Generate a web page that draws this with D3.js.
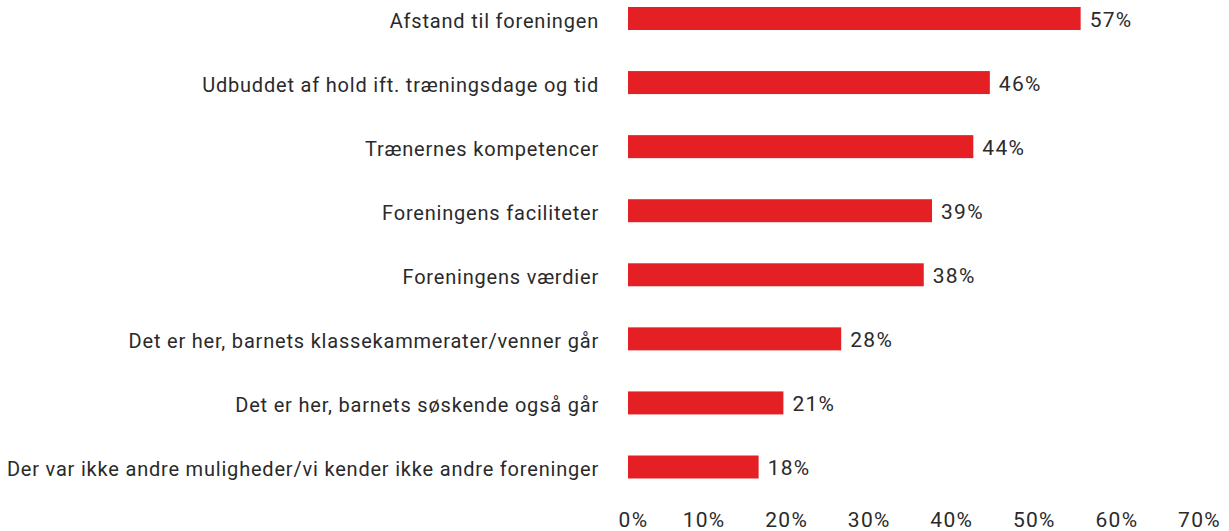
<!DOCTYPE html>
<html>
<head>
<meta charset="utf-8">
<script src="https://cdn.jsdelivr.net/npm/d3@7"></script>
<style>
  body { margin: 0; background: #fff; }
  text { font-family: Roboto, "Noto Sans", sans-serif; fill: #2a2a2a; font-weight: 400; }
</style>
</head>
<body>
<div id="viz"></div>
<script>
// categories, top to bottom
const categories = [
  "Afstand til foreningen",
  "Udbuddet af hold ift. træningsdage og tid",
  "Trænernes kompetencer",
  "Foreningens faciliteter",
  "Foreningens værdier",
  "Det er her, barnets klassekammerater/venner går",
  "Det er her, barnets søskende også går",
  "Der var ikke andre muligheder/vi kender ikke andre foreninger"
];
// share of respondents
const values = [0.57, 0.46, 0.44, 0.39, 0.38, 0.28, 0.21, 0.18];
const xTicks = [0, 0.1, 0.2, 0.3, 0.4, 0.5, 0.6, 0.7];

const width = 1229, height = 531;
const barLeft = 628;      // where the bars start
const barHeight = 23;

let svg = d3.select("#viz")
  .append("svg")
    .attr("width", width)
    .attr("height", height);

// x scale: the axis zero sits a little left of the bar origin in the original
let xScale = d3.scaleLinear()
  .domain([0, 0.7])
  .range([610, 1188]);

let yScale = d3.scalePoint()
  .domain(categories)
  .range([18.5, 467]);

let fmt = d3.format(".0%");

// bars
svg.append("g")
  .selectAll("rect")
  .data(values)
  .enter()
    .append("rect")
    .attr("x", barLeft)
    .attr("y", (d, i) => yScale(categories[i]) - barHeight / 2)
    .attr("width", d => xScale(d) - barLeft)
    .attr("height", barHeight)
    .style("fill", "#e52025");

// value labels
svg.append("g")
  .selectAll("text")
  .data(values)
  .enter()
    .append("text")
    .attr("x", d => xScale(d) + 9)
    .attr("y", (d, i) => yScale(categories[i]) + 8)
    .style("font-size", "21px")
    .style("letter-spacing", "1.3px")
    .text(d => fmt(d));

// category labels
svg.append("g")
  .selectAll("text")
  .data(categories)
  .enter()
    .append("text")
    .attr("x", 599)
    .attr("y", d => yScale(d) + 9)
    .attr("text-anchor", "end")
    .style("font-size", "20px")
    .style("letter-spacing", "0.8px")
    .text(d => d);

// x axis (labels only, no line / ticks)
let xAxisG = svg.append("g")
  .attr("transform", "translate(0,527)")
  .call(d3.axisBottom(xScale)
    .tickValues(xTicks)
    .tickFormat(fmt)
    .tickSize(0)
    .tickPadding(0)
  );
xAxisG.select(".domain").remove();
xAxisG.selectAll("text")
  .attr("y", 0)
  .attr("dy", 0)
  .attr("x", d => Math.max(xScale(d) + 11, barLeft + 5) - xScale(d))
  .style("font-size", "21px")
  .style("letter-spacing", "1.3px")
  .style("font-family", "Roboto, 'Noto Sans', sans-serif")
  .style("font-weight", 400)
  .attr("fill", "#2a2a2a");
</script>
</body>
</html>
